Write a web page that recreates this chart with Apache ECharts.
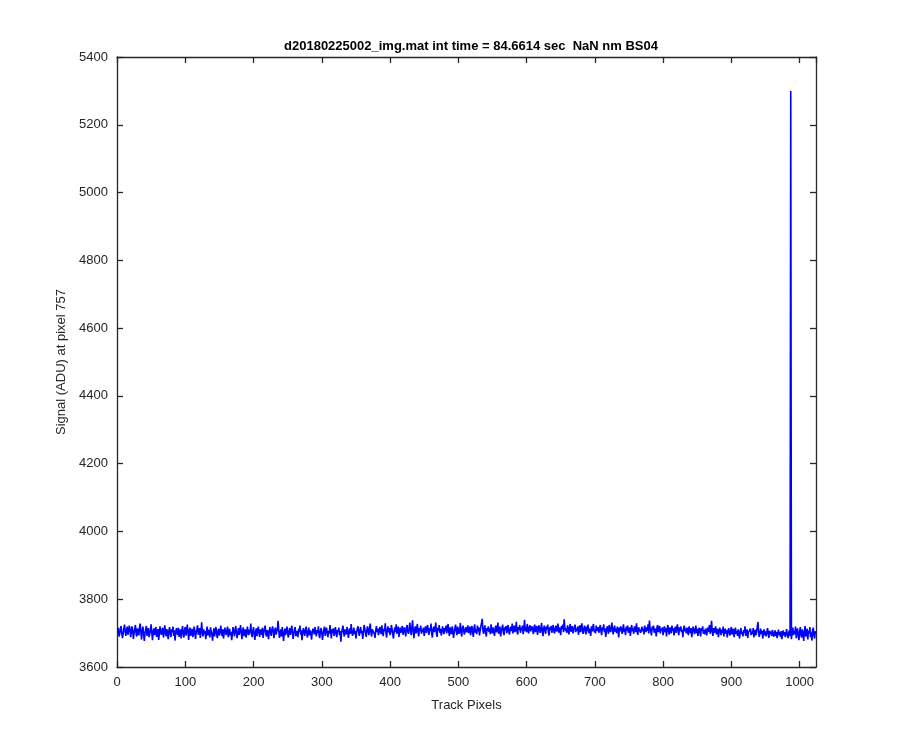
<!DOCTYPE html>
<html>
<head>
<meta charset="utf-8">
<script src="https://cdn.jsdelivr.net/npm/echarts@6/dist/echarts.min.js"></script>
<style>html,body{margin:0;padding:0;background:#fff}#c{width:900px;height:750px}</style>
</head>
<body>
<div id="c"></div>
<script>
const titleText = 'd20180225002_img.mat int time = 84.6614 sec  NaN nm BS04';
const xName = 'Track Pixels';
const yName = 'Signal (ADU) at pixel 757';
const xTicks = [0, 100, 200, 300, 400, 500, 600, 700, 800, 900, 1000];
const yTicks = [3600, 3800, 4000, 4200, 4400, 4600, 4800, 5000, 5200, 5400];
const signal = [
3708,3716,3690,3698,3712,3721,3700,3685,3697,3714,3725,3704,3692,3710,3719,3695,3706,3722,3713,3688,3702,3720,3709,3683,3699,3712,3724,3697,3690,3714,3705,3693,
3716,3728,3702,3681,3708,3719,3696,3677,3700,3711,3721,3692,3705,3715,3688,3698,3709,3726,3700,3679,3704,3714,3694,3707,3718,3689,3701,3712,3680,3697,3720,3705,
3695,3709,3716,3687,3700,3723,3704,3690,3712,3702,3682,3706,3718,3698,3688,3711,3703,3719,3692,3708,3678,3699,3715,3704,3694,3716,3689,3703,3711,3684,3706,3721,
3698,3687,3709,3718,3693,3704,3725,3701,3680,3708,3716,3692,3703,3713,3688,3698,3719,3705,3683,3701,3711,3723,3695,3704,3715,3686,3700,3732,3703,3690,3711,3697,
3706,3682,3699,3719,3693,3710,3702,3687,3717,3704,3695,3678,3703,3714,3690,3707,3718,3698,3685,3706,3713,3693,3702,3722,3704,3691,3711,3684,3700,3716,3703,3694,
3708,3719,3688,3701,3713,3693,3704,3679,3698,3718,3706,3690,3709,3721,3700,3685,3703,3715,3695,3707,3724,3702,3682,3706,3717,3691,3703,3711,3687,3698,3719,3704,
3694,3710,3700,3728,3697,3688,3706,3718,3698,3680,3703,3714,3691,3707,3719,3701,3689,3711,3704,3695,3716,3686,3702,3713,3722,3698,3690,3709,3703,3682,3706,3718,
3700,3692,3711,3720,3703,3685,3707,3716,3696,3704,3714,3736,3706,3686,3701,3711,3690,3718,3699,3677,3703,3713,3694,3708,3719,3700,3687,3706,3715,3695,3703,3722,
3704,3683,3698,3711,3718,3691,3706,3700,3688,3713,3703,3722,3695,3708,3679,3701,3715,3704,3692,3709,3719,3699,3687,3704,3716,3693,3708,3701,3681,3703,3713,3706,
3696,3718,3704,3690,3709,3700,3720,3694,3685,3706,3715,3702,3680,3698,3711,3719,3692,3704,3716,3701,3688,3707,3699,3724,3703,3684,3711,3700,3714,3692,3706,3718,
3698,3688,3709,3703,3716,3694,3706,3675,3700,3712,3722,3702,3690,3711,3704,3696,3718,3707,3686,3703,3714,3698,3727,3705,3692,3704,3716,3697,3707,3684,3701,3713,
3720,3703,3692,3710,3718,3699,3707,3683,3703,3724,3713,3700,3689,3709,3720,3705,3694,3714,3728,3702,3690,3711,3706,3716,3698,3686,3707,3721,3703,3713,3694,3704,
3718,3707,3697,3723,3703,3691,3713,3705,3729,3700,3687,3709,3720,3702,3715,3694,3704,3724,3711,3696,3684,3706,3717,3703,3726,3698,3709,3719,3689,3704,3716,3701,
3711,3721,3695,3706,3717,3703,3690,3715,3724,3704,3698,3713,3731,3707,3694,3718,3738,3705,3685,3711,3720,3699,3709,3727,3703,3690,3715,3706,3722,3698,3711,3703,
3716,3692,3707,3720,3701,3713,3724,3704,3695,3715,3706,3728,3699,3687,3711,3719,3703,3710,3731,3698,3689,3716,3707,3724,3701,3713,3693,3704,3720,3709,3697,3715,
3705,3722,3699,3713,3727,3704,3692,3717,3708,3697,3720,3709,3686,3702,3715,3725,3704,3694,3719,3711,3698,3707,3730,3702,3690,3715,3722,3705,3696,3711,3717,3702,
3713,3723,3700,3707,3719,3694,3710,3721,3703,3689,3715,3726,3701,3711,3697,3722,3705,3717,3693,3707,3719,3730,3742,3709,3698,3713,3723,3702,3690,3715,3707,3720,
3703,3714,3697,3726,3709,3699,3717,3705,3692,3713,3722,3702,3711,3731,3698,3707,3719,3690,3705,3715,3725,3702,3694,3717,3709,3721,3700,3711,3724,3704,3696,3713,
3719,3706,3728,3699,3713,3722,3703,3712,3733,3705,3696,3718,3710,3724,3701,3716,3708,3722,3697,3712,3739,3706,3719,3703,3727,3710,3699,3717,3723,3705,3714,3720,
3709,3697,3718,3725,3703,3713,3721,3695,3707,3723,3716,3701,3711,3730,3705,3691,3714,3722,3707,3698,3719,3711,3725,3703,3693,3717,3709,3721,3701,3713,3724,3706,
3699,3714,3722,3705,3711,3728,3701,3717,3709,3694,3721,3713,3725,3703,3741,3719,3706,3714,3701,3723,3710,3696,3717,3727,3704,3713,3720,3699,3708,3718,3725,3703,
3714,3707,3720,3695,3710,3723,3703,3716,3729,3705,3698,3713,3722,3708,3696,3719,3706,3725,3700,3714,3710,3692,3720,3705,3717,3727,3703,3710,3699,3722,3713,3706,
3718,3701,3713,3724,3705,3694,3717,3709,3726,3703,3714,3689,3706,3720,3713,3698,3724,3710,3703,3717,3731,3706,3696,3714,3722,3704,3713,3700,3719,3709,3687,3717,
3705,3720,3711,3698,3714,3726,3703,3713,3694,3719,3707,3722,3701,3710,3717,3692,3709,3724,3705,3714,3698,3720,3710,3703,3729,3707,3695,3717,3713,3722,3701,3709,
3719,3705,3713,3696,3722,3710,3703,3717,3707,3726,3699,3737,3713,3705,3693,3719,3709,3722,3701,3714,3707,3690,3717,3724,3703,3710,3721,3699,3713,3707,3717,3694,
3709,3720,3703,3714,3690,3713,3724,3705,3696,3717,3709,3699,3722,3707,3714,3693,3711,3719,3701,3713,3726,3705,3694,3717,3707,3720,3703,3710,3688,3714,3722,3705,
3713,3699,3716,3707,3694,3720,3709,3700,3715,3688,3705,3719,3711,3697,3707,3722,3700,3713,3692,3709,3716,3703,3690,3715,3707,3720,3698,3709,3696,3713,3705,3693,
3716,3703,3710,3724,3698,3709,3736,3705,3692,3715,3701,3710,3720,3696,3707,3713,3688,3703,3716,3707,3694,3710,3701,3719,3690,3705,3713,3698,3709,3687,3703,3715,
3703,3693,3709,3718,3696,3705,3713,3688,3702,3716,3698,3707,3692,3711,3700,3684,3705,3715,3697,3704,3690,3709,3700,3720,3692,3703,3711,3686,3702,3697,3707,3713,
3694,3704,3697,3715,3687,3702,3710,3693,3705,3718,3733,3699,3689,3704,3713,3697,3707,3684,3701,3711,3693,3705,3690,3703,3715,3699,3686,3707,3697,3704,3692,3709,
3701,3689,3699,3708,3692,3704,3685,3697,3710,3694,3703,3688,3706,3682,3699,3708,3693,3703,3688,3698,3712,3695,3685,3701,3708,3691,5300,3682,3704,3716,3694,3707,
3697,3719,3685,3705,3714,3691,3679,3703,3718,3694,3687,3711,3699,3677,3704,3721,3690,3701,3713,3681,3707,3698,3718,3688,3702,3678,3709,3716,3693,3684,3705,3700
];

const points = signal.map((v, i) => [i + 1, v]);
const axisColor = '#262626';
const font = 'Liberation Sans, Arial, Helvetica, sans-serif';

const chart = echarts.init(document.getElementById('c'), null, {renderer: 'canvas'});
const baseX = {
  type: 'value', min: 0, max: 1024, interval: 100,
  axisLine: {show: true, onZero: false, lineStyle: {color: axisColor, width: 1.3}},
  axisTick: {show: true, inside: true, length: 6, lineStyle: {color: axisColor, width: 1.3}},
  splitLine: {show: false}
};
const baseY = {
  type: 'value', min: 3600, max: 5400, interval: 200,
  axisLine: {show: true, onZero: false, lineStyle: {color: axisColor, width: 1.3}},
  axisTick: {show: true, inside: true, length: 6, lineStyle: {color: axisColor, width: 1.3}},
  splitLine: {show: false}
};
chart.setOption({
  animation: false,
  backgroundColor: '#ffffff',
  title: {
    text: titleText, left: 466, top: 35, textAlign: 'center',
    textStyle: {fontFamily: font, fontSize: 13, fontWeight: 'bold', color: '#000'}
  },
  grid: {left: 117, right: 84, top: 57, bottom: 83, containLabel: false},
  xAxis: [
    Object.assign({}, baseX, {
      position: 'bottom',
      name: xName, nameLocation: 'middle', nameGap: 32,
      nameTextStyle: {fontFamily: font, fontSize: 13, color: axisColor},
      axisLabel: {
        show: true, margin: 9, showMaxLabel: false, fontFamily: font, fontSize: 13, color: axisColor,
        formatter: v => (xTicks.indexOf(v) >= 0 ? String(v) : '')
      }
    }),
    Object.assign({}, baseX, {position: 'top', axisLabel: {show: false}})
  ],
  yAxis: [
    Object.assign({}, baseY, {
      position: 'left',
      name: yName, nameLocation: 'middle', nameGap: 40,
      nameTextStyle: {fontFamily: font, fontSize: 13, color: axisColor},
      axisLabel: {
        show: true, margin: 9, fontFamily: font, fontSize: 13, color: axisColor,
        formatter: v => (yTicks.indexOf(v) >= 0 ? String(v) : '')
      }
    }),
    Object.assign({}, baseY, {position: 'right', axisLabel: {show: false}})
  ],
  series: [{
    type: 'line', data: points, xAxisIndex: 0, yAxisIndex: 0,
    showSymbol: false, symbol: 'none',
    lineStyle: {color: '#0000ff', width: 1.6},
    emphasis: {disabled: true}
  }]
});
</script>
</body>
</html>
